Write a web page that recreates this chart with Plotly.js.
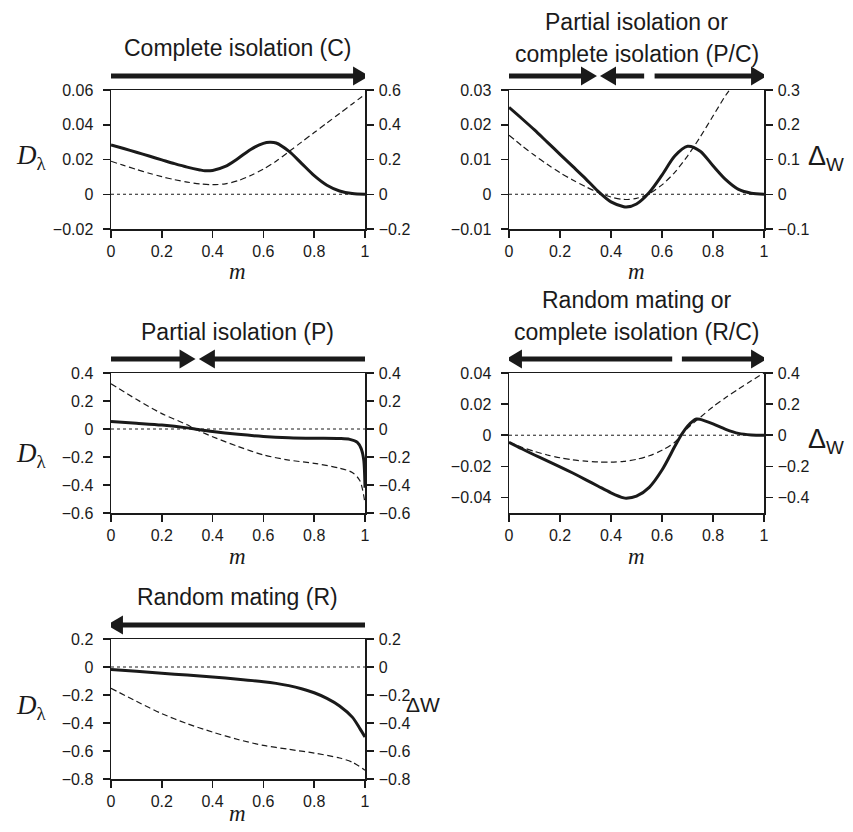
<!DOCTYPE html>
<html>
<head>
<meta charset="utf-8">
<script src="https://cdn.plot.ly/plotly-3.0.1.min.js"></script>
<style>html,body{margin:0;padding:0;background:#fff;}#chart{width:853px;height:832px;}</style>
</head>
<body>
<div id="chart"></div>
<script>
// ---------- DATA ----------
// Panel 1: Complete isolation (C)
const p1_m  = [0,0.05,0.1,0.15,0.2,0.25,0.3,0.35,0.37,0.4,0.45,0.5,0.55,0.6,0.625,0.65,0.7,0.75,0.8,0.85,0.9,0.95,1];
const p1_D  = [0.0284,0.0263,0.0242,0.0220,0.0198,0.0176,0.0156,0.0140,0.0135,0.0137,0.0160,0.0206,0.0258,0.0293,0.0299,0.0295,0.0248,0.0178,0.0107,0.0052,0.0019,0.0004,0];
const p1_dWm = [0,0.05,0.1,0.15,0.2,0.25,0.3,0.35,0.4,0.45,0.5,0.55,0.6,0.65,0.7,0.75,0.8,0.85,0.9,0.95,1];
const p1_dW = [0.19,0.166,0.143,0.121,0.101,0.084,0.070,0.060,0.055,0.060,0.078,0.108,0.145,0.190,0.245,0.300,0.355,0.410,0.465,0.520,0.575];

// Panel 2: Partial isolation or complete isolation (P/C)
const p2_m  = [0,0.05,0.1,0.15,0.2,0.25,0.3,0.35,0.4,0.45,0.46,0.5,0.55,0.6,0.65,0.7,0.75,0.8,0.85,0.9,0.95,1];
const p2_D  = [0.025,0.0218,0.0185,0.0150,0.0115,0.0080,0.0045,0.0008,-0.0022,-0.0036,-0.0037,-0.0028,0.0005,0.0055,0.0110,0.0138,0.0124,0.0082,0.0042,0.0014,0.0003,0];
const p2_dWm = [0,0.05,0.1,0.15,0.2,0.25,0.3,0.35,0.4,0.45,0.5,0.55,0.6,0.65,0.7,0.75,0.8,0.85,0.87];
const p2_dW = [0.17,0.14,0.112,0.086,0.062,0.041,0.022,0.005,-0.008,-0.015,-0.012,0.002,0.027,0.063,0.110,0.165,0.225,0.285,0.305];

// Panel 3: Partial isolation (P)
const p3_m  = [0,0.1,0.2,0.3,0.33,0.4,0.5,0.6,0.7,0.8,0.9,0.94,0.97,0.985,0.995,1];
const p3_D  = [0.053,0.041,0.028,0.008,0.0,-0.018,-0.038,-0.053,-0.062,-0.066,-0.068,-0.074,-0.095,-0.14,-0.22,-0.42];
const p3_dWm = [0,0.1,0.2,0.3,0.33,0.4,0.5,0.6,0.7,0.8,0.9,0.95,0.98,1];
const p3_dW = [0.323,0.212,0.11,0.03,0.0,-0.055,-0.125,-0.185,-0.222,-0.245,-0.28,-0.31,-0.37,-0.53];

// Panel 4: Random mating or complete isolation (R/C)
const p4_m  = [0,0.05,0.1,0.15,0.2,0.25,0.3,0.35,0.4,0.45,0.46,0.5,0.55,0.6,0.65,0.675,0.7,0.735,0.75,0.8,0.85,0.9,0.95,1];
const p4_D  = [-0.0045,-0.0087,-0.0127,-0.0165,-0.0203,-0.0243,-0.0285,-0.0328,-0.0370,-0.0403,-0.0405,-0.0392,-0.0335,-0.0224,-0.0073,0.0,0.0058,0.0104,0.0102,0.0073,0.0038,0.0012,0.0002,0];
const p4_dWm = [0,0.05,0.1,0.15,0.2,0.25,0.3,0.35,0.4,0.45,0.5,0.55,0.6,0.65,0.675,0.7,0.75,0.8,0.85,0.9,0.95,1];
const p4_dW = [-0.045,-0.077,-0.104,-0.127,-0.145,-0.158,-0.167,-0.172,-0.173,-0.168,-0.155,-0.132,-0.097,-0.045,0.0,0.045,0.115,0.183,0.242,0.297,0.35,0.40];

// Panel 5: Random mating (R)
const p5_m  = [0,0.1,0.2,0.3,0.4,0.5,0.6,0.65,0.7,0.75,0.8,0.85,0.9,0.95,0.98,1];
const p5_D  = [-0.018,-0.031,-0.044,-0.058,-0.072,-0.087,-0.105,-0.117,-0.133,-0.155,-0.184,-0.224,-0.278,-0.358,-0.44,-0.50];
const p5_dWm = [0,0.1,0.2,0.3,0.4,0.5,0.6,0.7,0.8,0.9,0.95,1];
const p5_dW = [-0.152,-0.245,-0.333,-0.405,-0.465,-0.518,-0.56,-0.588,-0.615,-0.65,-0.68,-0.737];

// Titles (one entry per line) and axis ranges
const titles = [["Complete isolation (C)"], ["Partial isolation or", "complete isolation (P/C)"], ["Partial isolation (P)"], ["Random mating or", "complete isolation (R/C)"], ["Random mating (R)"]];
const leftRanges  = [[-0.02,0.06],[-0.01,0.03],[-0.6,0.4],[-0.05,0.04],[-0.8,0.2]];
const leftDtick   = [0.02,0.01,0.2,0.02,0.2];
const rightRanges = [[-0.2,0.6],[-0.1,0.3],[-0.6,0.4],[-0.5,0.4],[-0.8,0.2]];
const rightDtick  = [0.2,0.1,0.2,0.2,0.2];
const xTicks = [0,0.2,0.4,0.6,0.8,1];
// Direction arrows (tail m, tip m) per panel
const arrows = [
  [[0,1.016]],
  [[0,0.345],[0.53,0.357],[0.571,1.012]],
  [[0,0.333],[1,0.346]],
  [[0.64,-0.012],[0.678,1.012]],
  [[1,-0.016]]
];

// ---------- LAYOUT ----------
const W = 853, H = 832;
const fx = p => p / W;
const fy = p => 1 - p / H;
const geom = [
  {l:111, r:365, t:90,  b:229, titleY:[48]},
  {l:509, r:764, t:90,  b:229, titleY:[22, 54]},
  {l:111, r:365, t:373, b:513, titleY:[332]},
  {l:509, r:764, t:373, b:513, titleY:[300, 332]},
  {l:111, r:365, t:639, b:779, titleY:[597]}
];
const INK = '#1a1a1a';
const sans = 'Liberation Sans, Arial, Helvetica, sans-serif';
const serif = 'Liberation Serif, Times New Roman, serif';

const series = [
  [p1_m,p1_D,p1_dWm,p1_dW],
  [p2_m,p2_D,p2_dWm,p2_dW],
  [p3_m,p3_D,p3_dWm,p3_dW],
  [p4_m,p4_D,p4_dWm,p4_dW],
  [p5_m,p5_D,p5_dWm,p5_dW]
];

const layout = {
  width: W, height: H,
  margin: {l:0, r:0, t:0, b:0},
  paper_bgcolor: '#fff', plot_bgcolor: '#fff',
  showlegend: false,
  font: {family: sans, color: INK, size: 16},
  annotations: [], shapes: []
};
const traces = [];

series.forEach((s, k) => {
  const g = geom[k];
  const xid = k === 0 ? '' : String(k + 1);
  const yl = 2 * k + 1, yr = 2 * k + 2;
  const ylid = yl === 1 ? '' : String(yl);
  const yrid = String(yr);
  const axisCommon = {
    showline: true, linecolor: INK, linewidth: 1.5,
    ticks: 'outside', ticklen: 7, tickwidth: 1.5, tickcolor: INK,
    showgrid: false, zeroline: false,
    tickfont: {family: sans, size: 16, color: INK}
  };
  layout['xaxis' + xid] = Object.assign({}, axisCommon, {
    domain: [fx(g.l), fx(g.r)], range: [0, 1], tickvals: xTicks,
    anchor: 'y' + ylid, mirror: true, fixedrange: true
  });
  layout['yaxis' + ylid] = Object.assign({}, axisCommon, {
    domain: [fy(g.b), fy(g.t)], range: leftRanges[k], tick0: 0, dtick: leftDtick[k],
    anchor: 'x' + xid, ticklabelstandoff: 6
  });
  layout['yaxis' + yrid] = Object.assign({}, axisCommon, {
    range: rightRanges[k], tick0: 0, dtick: rightDtick[k],
    overlaying: 'y' + ylid, side: 'right', anchor: 'x' + xid, ticklabelstandoff: 2
  });

  // zero reference (dotted)
  traces.push({x: [0, 1], y: [0, 0], xaxis: 'x' + xid, yaxis: 'y' + ylid,
    mode: 'lines', line: {color: INK, width: 1, dash: 'dot'}, hoverinfo: 'skip'});
  // Delta W (dashed, right axis)
  traces.push({x: s[2], y: s[3], xaxis: 'x' + xid, yaxis: 'y' + yrid, name: 'ΔW',
    mode: 'lines', line: {color: INK, width: 1.2, dash: '6px,3.5px', shape: 'spline', smoothing: 0.8}});
  // D lambda (solid, left axis)
  traces.push({x: s[0], y: s[1], xaxis: 'x' + xid, yaxis: 'y' + ylid, name: 'Dλ',
    mode: 'lines', line: {color: INK, width: 3, shape: 'spline', smoothing: 0.8}});

  // panel title (one annotation per line)
  const cx = fx((g.l + g.r) / 2);
  titles[k].forEach((line, i) => {
    layout.annotations.push({xref: 'paper', yref: 'paper', x: cx,
      y: fy(g.titleY[i]), xanchor: 'center', yanchor: 'middle',
      text: line, showarrow: false, font: {family: sans, size: 23, color: INK}});
  });
  // m axis title
  layout.annotations.push({xref: 'paper', yref: 'paper', x: cx,
    y: fy(g.b + (k === 4 ? 34 : 43)), xanchor: 'center', yanchor: 'middle',
    text: '<i>m</i>', showarrow: false, font: {family: serif, size: 23, color: INK}});

  // arrows
  const ay = fy(g.t - 14);
  const headLen = 16 / (g.r - g.l);
  const headHalf = 9.5 / H;
  arrows[k].forEach(([tail, tip]) => {
    const dir = tip > tail ? 1 : -1;
    const base = tip - dir * headLen;
    layout.shapes.push({type: 'line', xref: 'x' + xid, yref: 'paper',
      x0: tail, x1: base + dir * 0.004, y0: ay, y1: ay, line: {color: INK, width: 5}});
    layout.shapes.push({type: 'path', xref: 'x' + xid, yref: 'paper',
      path: `M${tip},${ay} L${base},${ay + headHalf} L${base},${ay - headHalf} Z`,
      fillcolor: INK, line: {color: INK, width: 0}});
  });
});

// D lambda labels (left) for panels 1, 3, 5
[[0,157],[2,455],[4,707]].forEach(([k, y]) => {
  layout.annotations.push({xref: 'paper', yref: 'paper', x: fx(14), y: fy(y),
    xanchor: 'left', yanchor: 'middle', showarrow: false,
    text: '<i>D</i><sub>λ</sub>', font: {family: serif, size: 27, color: INK}});
});
// Delta W labels (right) for panels 2, 4
[[1,158],[3,441]].forEach(([k, y]) => {
  layout.annotations.push({xref: 'paper', yref: 'paper', x: fx(806), y: fy(y),
    xanchor: 'left', yanchor: 'middle', showarrow: false,
    text: 'Δ<sub>W</sub>', font: {family: sans, size: 27, color: INK}});
});
// Panel 5 Delta W label
layout.annotations.push({xref: 'paper', yref: 'paper', x: fx(404), y: fy(704),
  xanchor: 'left', yanchor: 'middle', showarrow: false,
  text: 'ΔW', font: {family: sans, size: 21, color: INK}});

Plotly.newPlot('chart', traces, layout, {displayModeBar: false, staticPlot: true});
</script>
</body>
</html>
